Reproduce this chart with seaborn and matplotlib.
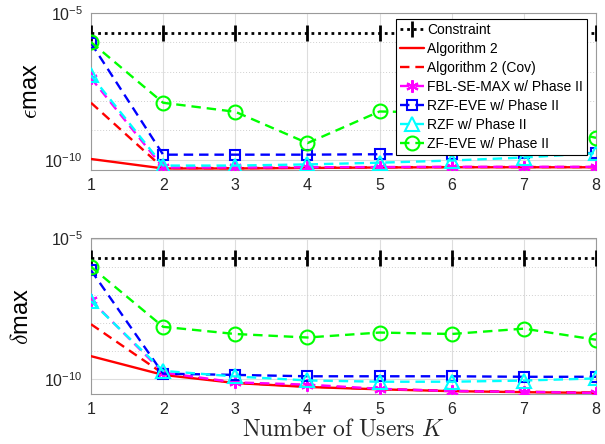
import numpy as np
import matplotlib
matplotlib.use("Agg")
import matplotlib.pyplot as plt
import seaborn as sns
from matplotlib.ticker import FixedLocator, NullFormatter

# ---------------- data ----------------
K = [1, 2, 3, 4, 5, 6, 7, 8]
xtick_labels = ["1", "2", "3", "4", "5", "6", "7", "8"]

series_names = ["Constraint", "Algorithm 2", "Algorithm 2 (Cov)",
                "FBL-SE-MAX w/ Phase II", "RZF-EVE w/ Phase II",
                "RZF w/ Phase II", "ZF-EVE w/ Phase II"]

# epsilon_max (top panel)
eps_constraint = [2e-6, 2e-6, 2e-6, 2e-6, 2e-6, 2e-6, 2e-6, 2e-6]
eps_alg2 = [1.07e-10, 5.1e-11, 5.1e-11, 5.3e-11, 5.5e-11, 5.6e-11, 5.6e-11, 5.6e-11]
eps_alg2cov = [8.7e-9, 5.3e-11, 5.2e-11, 5.4e-11, 5.6e-11, 5.7e-11, 5.7e-11, 5.7e-11]
eps_fbl = [6.0e-8, 5.5e-11, 5.5e-11, 5.6e-11, 5.7e-11, 5.8e-11, 5.8e-11, 5.8e-11]
eps_rzfeve = [9.3e-7, 1.5e-10, 1.5e-10, 1.5e-10, 1.55e-10, 1.6e-10, 1.65e-10, 1.7e-10]
eps_rzf = [7.4e-8, 6.4e-11, 6.4e-11, 7.0e-11, 8.0e-11, 9.5e-11, 1.2e-10, 1.7e-10]
eps_zfeve = [1.0e-6, 8.7e-9, 4.3e-9, 3.7e-10, 4.4e-9, 4.0e-9, 2.0e-9, 5.6e-10]

# delta_max (bottom panel)
del_constraint = [2e-6, 2e-6, 2e-6, 2e-6, 2e-6, 2e-6, 2e-6, 2e-6]
del_alg2 = [6.5e-10, 1.4e-10, 7.2e-11, 5.2e-11, 4.3e-11, 3.7e-11, 3.4e-11, 3.2e-11]
del_alg2cov = [8.9e-9, 1.55e-10, 7.4e-11, 5.4e-11, 4.4e-11, 3.8e-11, 3.5e-11, 3.3e-11]
del_fbl = [6.3e-8, 1.7e-10, 7.6e-11, 6.3e-11, 4.5e-11, 3.7e-11, 3.5e-11, 3.2e-11]
del_rzfeve = [7.4e-7, 1.55e-10, 1.4e-10, 1.25e-10, 1.25e-10, 1.25e-10, 1.2e-10, 1.2e-10]
del_rzf = [5.9e-8, 1.95e-10, 1.23e-10, 8.9e-11, 8.0e-11, 8.0e-11, 8.8e-11, 1.05e-10]
del_zfeve = [9.8e-7, 7.2e-9, 4.0e-9, 3.0e-9, 4.5e-9, 4.0e-9, 6.2e-9, 2.5e-9]

# ---------------- style ----------------
sns.set_style("white")
plt.rcParams["font.family"] = ["Liberation Sans", "DejaVu Sans"]

dash = (0, (4, 2.5))
styles = [
    dict(color="k", linestyle=(0, (1, 1.4)), lw=2.0, marker="|", markersize=11,
         markeredgewidth=2.0, markeredgecolor="k"),
    dict(color="#FF0000", linestyle="-", lw=1.7),
    dict(color="#FF0000", linestyle=dash, lw=1.7),
    dict(color="#FF00FF", linestyle=dash, lw=1.7, marker=(6, 2, 0), markersize=9,
         markeredgewidth=1.5, markeredgecolor="#FF00FF"),
    dict(color="#0000FF", linestyle=dash, lw=1.7, marker="s", markersize=7.5,
         markerfacecolor="none", markeredgewidth=1.5, markeredgecolor="#0000FF"),
    dict(color="#00FFFF", linestyle=dash, lw=1.7, marker="^", markersize=10,
         markerfacecolor="none", markeredgewidth=1.5, markeredgecolor="#00FFFF"),
    dict(color="#00FF00", linestyle=dash, lw=1.7, marker="o", markersize=10,
         markerfacecolor="none", markeredgewidth=1.5, markeredgecolor="#00FF00"),
]

fig = plt.figure(figsize=(6.05, 4.44), dpi=100)
W, H = 605.0, 444.0
ax1 = fig.add_axes([91 / W, 1 - 169.5 / H, 505 / W, (169.5 - 12.7) / H])
ax2 = fig.add_axes([91 / W, 1 - 393.7 / H, 505 / W, (393.7 - 238.5) / H])

top_data = [eps_constraint, eps_alg2, eps_alg2cov, eps_fbl, eps_rzfeve, eps_rzf, eps_zfeve]
bot_data = [del_constraint, del_alg2, del_alg2cov, del_fbl, del_rzfeve, del_rzf, del_zfeve]

tick_col = "#262626"
for ax, data, ylo, lab, labx in [
    (ax1, top_data, 4.7e-11, "$\\epsilon$max", -0.097),
    (ax2, bot_data, 3.0e-11, "$\\delta$max", -0.115),
]:
    ax.set_yscale("log")
    for i, (name, vals) in enumerate(zip(series_names, data)):
        sns.lineplot(x=K, y=vals, ax=ax, label=name if ax is ax1 else None,
                     errorbar=None, legend=False, zorder=3 + i, **styles[i])
    ax.set_xlim(1, 8)
    ax.set_ylim(ylo, 1e-5)
    ax.set_xticks(K)
    ax.set_xticklabels(xtick_labels)
    ax.set_yticks([1e-10, 1e-5])
    ax.set_yticklabels([r"$\mathregular{10^{-10}}$", r"$\mathregular{10^{-5}}$"])
    ax.yaxis.set_minor_locator(FixedLocator([1e-9, 1e-8, 1e-7, 1e-6]))
    ax.yaxis.set_minor_formatter(NullFormatter())
    ax.tick_params(axis="both", which="major", direction="in", length=4,
                   width=0.7, colors=tick_col, labelsize=11.5, pad=6)
    ax.tick_params(axis="y", which="minor", direction="in", length=2.5,
                   width=0.6, colors=tick_col)
    ax.grid(True, which="major", color="#dddddd", lw=0.8, ls="-")
    ax.grid(True, which="minor", axis="y", color="#cfcfcf", lw=0.7, ls=(0, (1, 2)))
    ax.set_axisbelow(True)
    for sp in ax.spines.values():
        sp.set_color("#9a9a9a")
        sp.set_linewidth(0.8)
    ax.set_ylabel(lab, fontsize=17, color="k", math_fontfamily="cm")
    ax.yaxis.set_label_coords(labx, 0.5)
    ax.set_xlabel("")

ax2.set_xlabel(r"$\mathrm{Number\ of\ Users}\ K$", fontsize=17,
               math_fontfamily="cm", color="#262626", labelpad=1)

handles, labels = ax1.get_legend_handles_labels()
leg = ax1.legend(handles, labels, loc="upper right",
                 bbox_to_anchor=(587 / W, 1 - 19 / H), bbox_transform=fig.transFigure,
                 borderaxespad=0, fontsize=10, frameon=True, fancybox=False,
                 framealpha=1, edgecolor="k", labelspacing=0.36, handlelength=1.75,
                 handletextpad=0.2, borderpad=0.3, numpoints=1)
leg.get_frame().set_linewidth(0.8)
leg.set_zorder(50)
for t in leg.get_texts():
    t.set_color("k")

fig.savefig("out.png", dpi=100)
